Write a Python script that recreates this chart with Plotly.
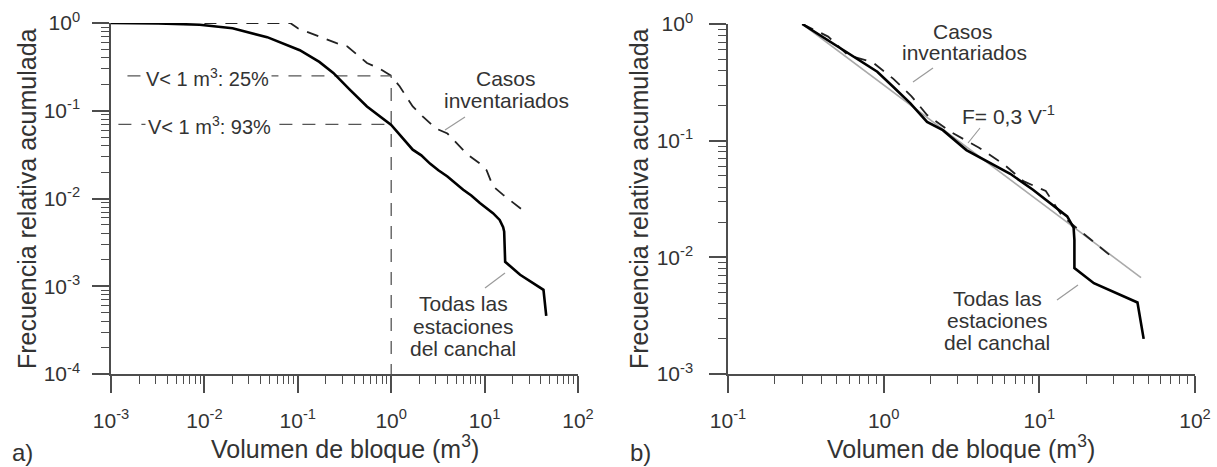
import plotly.graph_objects as go

W, H = 1217, 467

# ---------------- data ----------------
# Panel a) – all stations of the scree slope (solid)
a_all_x = [0.001, 0.0032, 0.0089, 0.020, 0.047, 0.105, 0.17, 0.24, 0.36, 0.55,
           1.0, 1.3, 1.7, 2.1, 2.6, 3.2, 4.0, 5.9, 7.2, 8.9, 10.5, 12.3, 14.5,
           15.8, 16.2, 16.6, 24.0, 42.7, 45.7]
a_all_y = [1.0, 0.99, 0.955, 0.87, 0.69, 0.49, 0.36, 0.27, 0.174, 0.112,
           0.069, 0.050, 0.036, 0.031, 0.025, 0.021, 0.0178, 0.0126, 0.0108, 0.0089,
           0.0078, 0.0068, 0.0057, 0.0047, 0.0042, 0.0019, 0.00135, 0.00091, 0.00046]

# Panel a) – inventoried cases (dashed)
a_inv_x = [0.01, 0.083, 0.1, 0.174, 0.26, 0.34, 0.47, 0.55, 0.76, 1.0, 1.23,
           1.7, 2.2, 3.0, 4.0, 5.5, 6.5, 8.9, 10.5, 12.3, 15.8, 28.2]
a_inv_y = [1.0, 1.0, 0.87, 0.69, 0.59, 0.54, 0.41, 0.35, 0.30, 0.25, 0.19,
           0.112, 0.085, 0.063, 0.055, 0.039, 0.032, 0.025, 0.021, 0.0138, 0.011, 0.0068]

# Reference values at V = 1 m3
ref_v = 1.0
ref_inv = 0.25   # 25 %
ref_all = 0.07   # 93 % below 1 m3
ref_y_bottom = 1e-4
ref_x_start_inv = 0.0015
ref_x_start_all = 0.0012

# Panel b) – all stations (solid)
b_all_x = [0.30, 0.55, 0.91, 1.15, 1.48, 1.9, 2.4, 3.4, 4.8, 6.5, 9.1, 11.7,
           15.1, 16.6, 16.8, 16.8, 22.4, 42.7, 46.8]
b_all_y = [1.0, 0.60, 0.39, 0.29, 0.21, 0.145, 0.123, 0.083, 0.065, 0.052, 0.038,
           0.029, 0.0224, 0.018, 0.0141, 0.0081, 0.006, 0.0041, 0.002]

# Panel b) – inventoried cases (dashed)
b_inv_x = [0.30, 0.44, 0.59, 0.85, 1.15, 1.51, 1.9, 2.75, 4.1, 5.9, 7.9, 11.0,
           14.1, 18.2, 29.5]
b_inv_y = [1.0, 0.78, 0.54, 0.47, 0.34, 0.24, 0.166, 0.117, 0.087, 0.063, 0.045,
           0.037, 0.0224, 0.017, 0.010]

# Panel b) – fit F = 0,3 V^-1 (end points)
fit_x = [0.3, 45.0]
fit_y = [1.0, 0.0067]

# tick labels
a_xticks = [1e-3, 1e-2, 1e-1, 1e0, 1e1, 1e2]
a_xlabels = ["10<sup>-3</sup>", "10<sup>-2</sup>", "10<sup>-1</sup>", "10<sup>0</sup>",
             "10<sup>1</sup>", "10<sup>2</sup>"]
a_yticks = [1e-4, 1e-3, 1e-2, 1e-1, 1e0]
a_ylabels = ["10<sup>-4</sup>", "10<sup>-3</sup>", "10<sup>-2</sup>", "10<sup>-1</sup>",
             "10<sup>0</sup>"]
b_xticks = [1e-1, 1e0, 1e1, 1e2]
b_xlabels = ["10<sup>-1</sup>", "10<sup>0</sup>", "10<sup>1</sup>", "10<sup>2</sup>"]
b_yticks = [1e-3, 1e-2, 1e-1, 1e0]
b_ylabels = ["10<sup>-3</sup>", "10<sup>-2</sup>", "10<sup>-1</sup>", "10<sup>0</sup>"]

# ---------------- styling ----------------
FONT = "Liberation Sans, Arial, sans-serif"
TXT = "#333333"
AX = "#4d4d4d"


def px(x):
    return x / W


def py(y):
    return 1 - y / H


fig = go.Figure()

# panel a
fig.add_trace(go.Scatter(x=a_inv_x, y=a_inv_y, mode="lines", xaxis="x", yaxis="y",
                         line=dict(color="#222222", width=1.8, dash="12px,9px")))
fig.add_trace(go.Scatter(x=[ref_x_start_inv, ref_v, ref_v], y=[ref_inv, ref_inv, ref_y_bottom],
                         mode="lines", xaxis="x", yaxis="y",
                         line=dict(color="#555555", width=1.3, dash="13px,10px")))
fig.add_trace(go.Scatter(x=[ref_x_start_all, ref_v], y=[ref_all, ref_all],
                         mode="lines", xaxis="x", yaxis="y",
                         line=dict(color="#555555", width=1.3, dash="13px,10px")))
fig.add_trace(go.Scatter(x=a_all_x, y=a_all_y, mode="lines", xaxis="x", yaxis="y",
                         line=dict(color="#000000", width=2.6)))

# panel b
fig.add_trace(go.Scatter(x=fit_x, y=fit_y, mode="lines", xaxis="x2", yaxis="y2",
                         line=dict(color="#aaaaaa", width=1.6)))
fig.add_trace(go.Scatter(x=b_inv_x, y=b_inv_y, mode="lines", xaxis="x2", yaxis="y2",
                         line=dict(color="#222222", width=1.8, dash="12px,9px")))
fig.add_trace(go.Scatter(x=b_all_x, y=b_all_y, mode="lines", xaxis="x2", yaxis="y2",
                         line=dict(color="#000000", width=2.6)))

axis_common = dict(
    type="log", showline=True, linecolor=AX, linewidth=1.5,
    ticks="outside", ticklen=17, tickwidth=1.5, tickcolor=AX,
    showgrid=False, zeroline=False, tickmode="array", automargin=False,
    tickfont=dict(family=FONT, size=21, color=TXT),
    minor=dict(ticks="outside", ticklen=8, tickwidth=1.2, tickcolor=AX,
               dtick="D1", showgrid=False),
)

fig.update_layout(
    template="none",
    width=W, height=H,
    margin=dict(l=0, r=0, t=0, b=0, autoexpand=False),
    paper_bgcolor="white", plot_bgcolor="white",
    showlegend=False,
    xaxis=dict(axis_common, domain=[px(111), px(578)], range=[-3, 2], anchor="y",
               tickvals=a_xticks, ticktext=a_xlabels, ticklabelstandoff=10),
    yaxis=dict(axis_common, domain=[py(374), py(23)], range=[-4, 0], anchor="x",
               tickvals=a_yticks, ticktext=a_ylabels, ticklabelstandoff=8),
    xaxis2=dict(axis_common, domain=[px(728), px(1195)], range=[-1, 2], anchor="y2",
                tickvals=b_xticks, ticktext=b_xlabels, ticklabelstandoff=10),
    yaxis2=dict(axis_common, domain=[py(374), py(24)], range=[-3, 0], anchor="x2",
                tickvals=b_yticks, ticktext=b_ylabels, ticklabelstandoff=12),
)


def text(t, x, y, size=21, bg=None, angle=0, xanchor="center"):
    d = dict(text=t, x=px(x), y=py(y), xref="paper", yref="paper", showarrow=False,
             xanchor=xanchor, yanchor="middle", textangle=angle,
             font=dict(family=FONT, size=size, color=TXT))
    if bg:
        d.update(bgcolor=bg, borderpad=2)
    fig.add_annotation(**d)


# axis titles
text("Volumen de bloque (m<sup>3</sup>)", 345, 447, size=25)
text("Volumen de bloque (m<sup>3</sup>)", 961, 447, size=25)
text("Frecuencia relativa acumulada", 27, 199, size=25, angle=-90)
text("Frecuencia relativa acumulada", 639, 199, size=25, angle=-90)

# panel letters
text("a)", 22, 452, size=24)
text("b)", 640, 452, size=24)

# panel a labels
text("V&lt; 1 m<sup>3</sup>: 25%", 207, 77, size=20, bg="white")
text("V&lt; 1 m<sup>3</sup>: 93%", 209, 125, size=20, bg="white")
text("Casos", 506, 78)
text("inventariados", 506, 100)
text("Todas las", 463, 303)
text("estaciones", 463, 326)
text("del canchal", 463, 348)

# panel b labels
text("Casos", 963, 32)
text("inventariados", 964, 53)
text("F= 0,3 V<sup>-1</sup>", 1008, 115)
text("Todas las", 997, 298)
text("estaciones", 997, 320)
text("del canchal", 997, 342)

# leader lines
for (x0, y0, x1, y1) in [(445, 130, 465, 117), (485, 288, 505, 273),
                         (913, 82, 933, 68), (968, 143, 980, 128),
                         (1057, 300, 1078, 285)]:
    fig.add_shape(type="line", xref="paper", yref="paper",
                  x0=px(x0), y0=py(y0), x1=px(x1), y1=py(y1),
                  line=dict(color="#9a9a9a", width=1.2))

fig.write_html("out.html", config={"displayModeBar": False},
               post_script="document.body.style.margin='0px';document.body.style.overflow='hidden';")
